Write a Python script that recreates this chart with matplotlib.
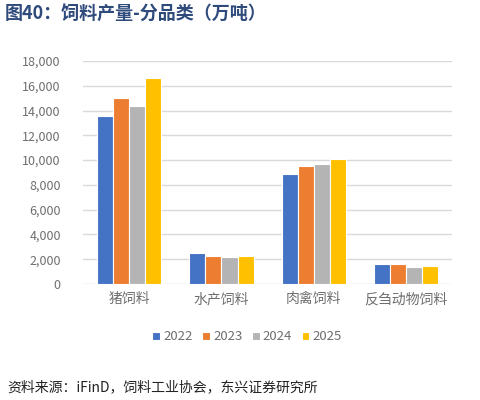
import matplotlib
matplotlib.use("Agg")
import matplotlib.pyplot as plt
import numpy as np

plt.rcParams['font.family'] = ['Noto Sans CJK SC', 'DejaVu Sans']

categories = ['猪饲料', '水产饲料', '肉禽饲料', '反刍动物饲料']
years = ['2022', '2023', '2024', '2025']
v2022 = [13600, 2500, 8900, 1600]
v2023 = [15000, 2300, 9500, 1650]
v2024 = [14400, 2200, 9700, 1400]
v2025 = [16600, 2250, 10100, 1430]
yticks = [0, 2000, 4000, 6000, 8000, 10000, 12000, 14000, 16000, 18000]
colors = ['#4472C4', '#ED7D31', '#B4B4B4', '#FFC000']

fig = plt.figure(figsize=(4.8, 4.0), dpi=100)
ax = fig.add_axes([0.173, 0.29, 0.769, 0.5575])

series = [v2022, v2023, v2024, v2025]
x = np.arange(len(categories))
w = 0.174
for i, (vals, c, lab) in enumerate(zip(series, colors, years)):
    ax.bar(x + (i - 1.5) * w, vals, width=w, color=c, edgecolor='white',
           linewidth=0.8, label=lab, zorder=3)

ax.set_xlim(-0.5, len(categories) - 0.5)
ax.set_ylim(0, 18000)
ax.set_yticks(yticks)
ax.set_yticklabels([f'{v:,}' for v in yticks])
ax.set_xticks(x)
ax.set_xticklabels(categories)
ax.grid(axis='y', color='#D9D9D9', linewidth=1, zorder=0)
for s in ax.spines.values():
    s.set_visible(False)
ax.tick_params(axis='both', length=0, colors='#6E6E6E', labelsize=9)
ax.tick_params(axis='x', labelsize=10, pad=6)
ax.tick_params(axis='y', pad=16)

leg = ax.legend(loc='center', bbox_to_anchor=(247 / 480, 1 - 337 / 400),
                bbox_transform=fig.transFigure, ncol=4, frameon=False,
                handlelength=0.6, handleheight=0.6, handletextpad=0.25,
                columnspacing=0.7, fontsize=9.5)
for t in leg.get_texts():
    t.set_color('#6E6E6E')

fig.text(5 / 480, 1 - 14 / 400, '图40：饲料产量-分品类（万吨）', fontsize=13,
         fontweight='bold', color='#2F4B7C', va='center', ha='left')
fig.text(7 / 480, 1 - 387 / 400, '资料来源：iFinD，饲料工业协会，东兴证券研究所',
         fontsize=10, style='italic', color='#222222', va='center', ha='left')

fig.savefig('out.png', dpi=100)
